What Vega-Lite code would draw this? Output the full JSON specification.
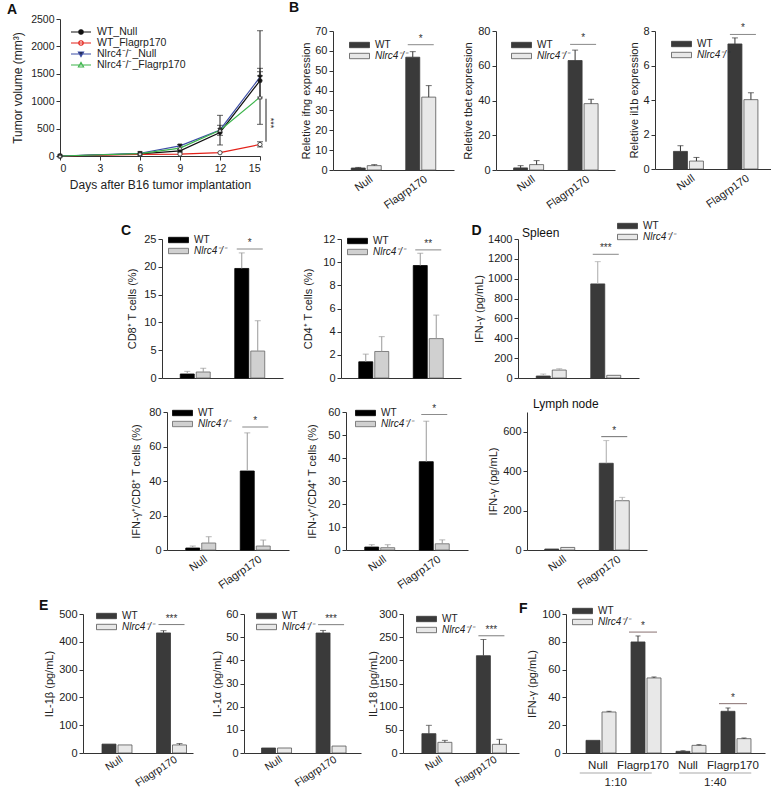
{
"$schema": "https://vega.github.io/schema/vega-lite/v6.json",
"padding": 0,
"spacing": 0,
"resolve": {"scale": {"color": "independent", "fill": "independent", "stroke": "independent", "shape": "independent"}, "legend": {"color": "independent", "fill": "independent", "stroke": "independent", "shape": "independent"}},
"config": {
 "font": "Liberation Sans",
 "view": {"stroke": null},
 "axis": {"labelFont": "Liberation Sans", "titleFont": "Liberation Sans", "labelFontSize": 11, "titleFontSize": 11, "titleFontWeight": "normal", "labelColor": "#222", "titleColor": "#222", "domainColor": "#333", "tickColor": "#333", "tickSize": 4, "labelPadding": 2, "titlePadding": 3, "grid": false, "labelOverlap": false},
 "legend": {"labelFont": "Liberation Sans", "labelFontSize": 10, "labelColor": "#222", "padding": 0, "rowPadding": 1, "labelOffset": 5, "title": null, "clipHeight": 10},
 "title": {"font": "Liberation Sans", "fontSize": 14, "fontWeight": "bold", "anchor": "start", "frame": "group", "color": "#111", "baseline": "alphabetic"}
},
"datasets": {
 "a": [
  {"day": 0, "s": "WT_Null", "m": "WT Null", "v": 0}, {"day": 6, "s": "WT_Null", "m": "WT Null", "v": 40}, {"day": 9, "s": "WT_Null", "m": "WT Null", "v": 95}, {"day": 12, "s": "WT_Null", "m": "WT Null", "v": 430}, {"day": 15, "s": "WT_Null", "m": "WT Null", "v": 1375},
  {"day": 0, "s": "WT_Flagrp170", "m": "WT Flagrp170", "v": 0}, {"day": 6, "s": "WT_Flagrp170", "m": "WT Flagrp170", "v": 30}, {"day": 9, "s": "WT_Flagrp170", "m": "WT Flagrp170", "v": 35}, {"day": 12, "s": "WT_Flagrp170", "m": "WT Flagrp170", "v": 60}, {"day": 15, "s": "WT_Flagrp170", "m": "WT Flagrp170", "v": 210},
  {"day": 0, "s": "Nlrc4⁻/⁻_Null", "m": "Nlrc4 Null", "v": 0}, {"day": 6, "s": "Nlrc4⁻/⁻_Null", "m": "Nlrc4 Null", "v": 50}, {"day": 9, "s": "Nlrc4⁻/⁻_Null", "m": "Nlrc4 Null", "v": 185}, {"day": 12, "s": "Nlrc4⁻/⁻_Null", "m": "Nlrc4 Null", "v": 475}, {"day": 15, "s": "Nlrc4⁻/⁻_Null", "m": "Nlrc4 Null", "v": 1440},
  {"day": 0, "s": "Nlrc4⁻/⁻_Flagrp170", "m": "Nlrc4 Flagrp170", "v": 0}, {"day": 6, "s": "Nlrc4⁻/⁻_Flagrp170", "m": "Nlrc4 Flagrp170", "v": 45}, {"day": 9, "s": "Nlrc4⁻/⁻_Flagrp170", "m": "Nlrc4 Flagrp170", "v": 145}, {"day": 12, "s": "Nlrc4⁻/⁻_Flagrp170", "m": "Nlrc4 Flagrp170", "v": 470}, {"day": 15, "s": "Nlrc4⁻/⁻_Flagrp170", "m": "Nlrc4 Flagrp170", "v": 1075}
 ],
 "aerr": [
  {"day": 6, "s": "WT_Null", "lo": 30, "hi": 52},
  {"day": 9, "s": "WT_Null", "lo": 70, "hi": 120},
  {"day": 9, "s": "Nlrc4⁻/⁻_Null", "lo": 165, "hi": 205},
  {"day": 12, "s": "WT_Null", "lo": 377, "hi": 560},
  {"day": 12, "s": "Nlrc4⁻/⁻_Flagrp170", "lo": 201, "hi": 742},
  {"day": 15, "s": "WT_Null", "lo": 578, "hi": 2286},
  {"day": 15, "s": "Nlrc4⁻/⁻_Null", "lo": 1460, "hi": 1600},
  {"day": 15, "s": "Nlrc4⁻/⁻_Flagrp170", "lo": 1075, "hi": 1538},
  {"day": 15, "s": "WT_Flagrp170", "lo": 165, "hi": 260}
 ],
 "asig": [{"lo": 261, "hi": 1045, "lab": "***"}],
 "b1": [{"grp": "Null", "geno": "WT", "v": 1.0, "hi": 1.3}, {"grp": "Null", "geno": "Nlrc4⁻/⁻", "v": 2.2, "hi": 2.7}, {"grp": "Flagrp170", "geno": "WT", "v": 56.8, "hi": 59.6}, {"grp": "Flagrp170", "geno": "Nlrc4⁻/⁻", "v": 36.7, "hi": 42.5}],
 "b1s": [{"grp": "Flagrp170", "y": 63.1, "lab": "*"}],
 "b2": [{"grp": "Null", "geno": "WT", "v": 1.2, "hi": 2.5}, {"grp": "Null", "geno": "Nlrc4⁻/⁻", "v": 3.1, "hi": 5.4}, {"grp": "Flagrp170", "geno": "WT", "v": 63, "hi": 69}, {"grp": "Flagrp170", "geno": "Nlrc4⁻/⁻", "v": 38.2, "hi": 40.7}],
 "b2s": [{"grp": "Flagrp170", "y": 72.3, "lab": "*"}],
 "b3": [{"grp": "Null", "geno": "WT", "v": 1.02, "hi": 1.35}, {"grp": "Null", "geno": "Nlrc4⁻/⁻", "v": 0.46, "hi": 0.67}, {"grp": "Flagrp170", "geno": "WT", "v": 7.25, "hi": 7.6}, {"grp": "Flagrp170", "geno": "Nlrc4⁻/⁻", "v": 4.02, "hi": 4.42}],
 "b3s": [{"grp": "Flagrp170", "y": 7.8, "lab": "*"}],
 "c1": [{"grp": "Null", "geno": "WT", "v": 0.72, "hi": 1.2}, {"grp": "Null", "geno": "Nlrc4⁻/⁻", "v": 1.08, "hi": 1.75}, {"grp": "Flagrp170", "geno": "WT", "v": 19.7, "hi": 22.5}, {"grp": "Flagrp170", "geno": "Nlrc4⁻/⁻", "v": 4.85, "hi": 10.3}],
 "c1s": [{"grp": "Flagrp170", "y": 23.2, "lab": "*"}],
 "c2": [{"grp": "Null", "geno": "WT", "v": 1.4, "hi": 2.06}, {"grp": "Null", "geno": "Nlrc4⁻/⁻", "v": 2.29, "hi": 3.57}, {"grp": "Flagrp170", "geno": "WT", "v": 9.71, "hi": 10.77}, {"grp": "Flagrp170", "geno": "Nlrc4⁻/⁻", "v": 3.4, "hi": 5.43}],
 "c2s": [{"grp": "Flagrp170", "y": 11.06, "lab": "**"}],
 "c3": [{"grp": "Null", "geno": "WT", "v": 1.15, "hi": 2.3}, {"grp": "Null", "geno": "Nlrc4⁻/⁻", "v": 4.04, "hi": 7.7}, {"grp": "Flagrp170", "geno": "WT", "v": 45.8, "hi": 67.9}, {"grp": "Flagrp170", "geno": "Nlrc4⁻/⁻", "v": 2.3, "hi": 5.77}],
 "c3s": [{"grp": "Flagrp170", "y": 71.3, "lab": "*"}],
 "c4": [{"grp": "Null", "geno": "WT", "v": 1.29, "hi": 2.3}, {"grp": "Null", "geno": "Nlrc4⁻/⁻", "v": 1.0, "hi": 2.3}, {"grp": "Flagrp170", "geno": "WT", "v": 38.4, "hi": 56.0}, {"grp": "Flagrp170", "geno": "Nlrc4⁻/⁻", "v": 2.7, "hi": 4.4}],
 "c4s": [{"grp": "Flagrp170", "y": 58.9, "lab": "*"}],
 "d1": [{"grp": "Null", "geno": "WT", "v": 20, "hi": 40}, {"grp": "Null", "geno": "Nlrc4⁻/⁻", "v": 80, "hi": 94}, {"grp": "Flagrp170", "geno": "WT", "v": 948, "hi": 1172}, {"grp": "Flagrp170", "geno": "Nlrc4⁻/⁻", "v": 27, "hi": 27}],
 "d1s": [{"grp": "Flagrp170", "y": 1246, "lab": "***"}],
 "d2": [{"grp": "Null", "geno": "WT", "v": 5, "hi": 5}, {"grp": "Null", "geno": "Nlrc4⁻/⁻", "v": 13, "hi": 13}, {"grp": "Flagrp170", "geno": "WT", "v": 440, "hi": 555}, {"grp": "Flagrp170", "geno": "Nlrc4⁻/⁻", "v": 250, "hi": 267}],
 "d2s": [{"grp": "Flagrp170", "y": 575, "lab": "*"}],
 "e1": [{"grp": "Null", "geno": "WT", "v": 32, "hi": 32}, {"grp": "Null", "geno": "Nlrc4⁻/⁻", "v": 29, "hi": 29}, {"grp": "Flagrp170", "geno": "WT", "v": 432, "hi": 440}, {"grp": "Flagrp170", "geno": "Nlrc4⁻/⁻", "v": 29, "hi": 34}],
 "e1s": [{"grp": "Flagrp170", "y": 462, "lab": "***"}],
 "e2": [{"grp": "Null", "geno": "WT", "v": 2.16, "hi": 2.16}, {"grp": "Null", "geno": "Nlrc4⁻/⁻", "v": 2.16, "hi": 2.16}, {"grp": "Flagrp170", "geno": "WT", "v": 51.8, "hi": 52.9}, {"grp": "Flagrp170", "geno": "Nlrc4⁻/⁻", "v": 3.0, "hi": 3.0}],
 "e2s": [{"grp": "Flagrp170", "y": 55.4, "lab": "***"}],
 "e3": [{"grp": "Null", "geno": "WT", "v": 41.7, "hi": 59.7}, {"grp": "Null", "geno": "Nlrc4⁻/⁻", "v": 23, "hi": 27.3}, {"grp": "Flagrp170", "geno": "WT", "v": 210, "hi": 245}, {"grp": "Flagrp170", "geno": "Nlrc4⁻/⁻", "v": 18.7, "hi": 29.5}],
 "e3s": [{"grp": "Flagrp170", "y": 253, "lab": "***"}],
 "f": [{"grp": "Null_1:10", "geno": "WT", "v": 9.1, "hi": 9.1}, {"grp": "Null_1:10", "geno": "Nlrc4⁻/⁻", "v": 29.5, "hi": 30}, {"grp": "Flagrp170_1:10", "geno": "WT", "v": 79.9, "hi": 84.2}, {"grp": "Flagrp170_1:10", "geno": "Nlrc4⁻/⁻", "v": 54, "hi": 54.7}, {"grp": "Null_1:40", "geno": "WT", "v": 1.2, "hi": 1.6}, {"grp": "Null_1:40", "geno": "Nlrc4⁻/⁻", "v": 5.5, "hi": 6}, {"grp": "Flagrp170_1:40", "geno": "WT", "v": 30, "hi": 32.4}, {"grp": "Flagrp170_1:40", "geno": "Nlrc4⁻/⁻", "v": 10.3, "hi": 10.8}],
 "fs": [{"grp": "Flagrp170_1:10", "y": 87, "lab": "*"}, {"grp": "Flagrp170_1:40", "y": 35.5, "lab": "*"}],
 "fr": [{"ratio": "1:10"}, {"ratio": "1:40"}]
},
"vconcat": [
 {"spacing": 0, "resolve": {"scale": {"color": "independent", "fill": "independent", "stroke": "independent", "shape": "independent"}, "legend": {"color": "independent", "fill": "independent", "stroke": "independent", "shape": "independent"}}, "hconcat": [
  {"width": 1, "height": 1, "data": {"values": [{}]}, "mark": {"type": "point", "opacity": 0}, "encoding": {}},
  {"width": 200, "height": 137, "title": {"text": "A", "dx": -53, "offset": -3},
   "layer": [
    {"data": {"name": "aerr"}, "mark": {"type": "rule", "color": "#222"},
     "encoding": {
      "x": {"field": "day", "type": "quantitative", "scale": {"domain": [0, 15], "nice": false}, "axis": {"values": [0, 3, 6, 9, 12, 15], "tickCount": 50, "format": "d", "title": "Days after B16 tumor implantation", "ticks": true, "labelFontSize": 10.5, "titleFontSize": 12, "titlePadding": 6, "labelPadding": 3}},
      "y": {"field": "lo", "type": "quantitative", "scale": {"domain": [0, 2500], "nice": false}, "axis": {"values": [0, 500, 1000, 1500, 2000, 2500], "tickCount": 50, "format": "d", "title": "Tumor volume (mm³)", "labelFontSize": 10.5, "titleFontSize": 12, "titlePadding": 0, "minExtent": 36, "maxExtent": 36}},
      "y2": {"field": "hi"}}},
    {"data": {"name": "aerr"}, "mark": {"type": "tick", "orient": "horizontal", "size": 6, "thickness": 1, "color": "#222"}, "encoding": {"x": {"field": "day", "type": "quantitative"}, "y": {"field": "hi", "type": "quantitative"}}},
    {"data": {"name": "aerr"}, "mark": {"type": "tick", "orient": "horizontal", "size": 6, "thickness": 1, "color": "#222"}, "encoding": {"x": {"field": "day", "type": "quantitative"}, "y": {"field": "lo", "type": "quantitative"}}},
    {"data": {"name": "a"}, "mark": {"type": "line", "strokeWidth": 1.2},
     "encoding": {
      "x": {"field": "day", "type": "quantitative"},
      "y": {"field": "v", "type": "quantitative"},
      "color": {"field": "s", "type": "nominal", "scale": {"domain": ["WT_Null", "WT_Flagrp170", "Nlrc4⁻/⁻_Null", "Nlrc4⁻/⁻_Flagrp170"], "range": ["#111111", "#e32119", "#3d4ea6", "#3cb44b"]},
       "legend": {"orient": "none", "legendX": 10, "legendY": 8, "symbolSize": 400, "symbolStrokeWidth": 1.1, "labelFontSize": 10.5, "labelOffset": 5, "rowPadding": 0,
        "encode": {"symbols": {"update": {
         "shape": {"signal": "datum.value === 'WT_Null' || datum.value === 'WT_Flagrp170' ? 'M-1,0H1M0.22,0A0.22,0.22 0 1,1 -0.22,0A0.22,0.22 0 1,1 0.22,0Z' : (datum.value === 'Nlrc4⁻/⁻_Null' ? 'M-1,0H1M-0.26,-0.2L0.26,-0.2L0,0.26Z' : 'M-1,0H1M-0.26,0.2L0.26,0.2L0,-0.26Z')"},
         "fill": {"signal": "datum.value === 'WT_Null' || datum.value === 'Nlrc4⁻/⁻_Null' ? '#111111' : '#ffffff'"},
         "fillOpacity": {"value": 1}}}}}}}},
    {"data": {"name": "a"}, "mark": {"type": "point", "filled": true, "size": 18, "stroke": "#222", "strokeWidth": 0.8, "opacity": 1},
     "encoding": {
      "x": {"field": "day", "type": "quantitative"},
      "y": {"field": "v", "type": "quantitative"},
      "shape": {"field": "m", "type": "nominal", "scale": {"domain": ["WT Null", "WT Flagrp170", "Nlrc4 Null", "Nlrc4 Flagrp170"], "range": ["circle", "circle", "triangle-down", "triangle-up"]}, "legend": null},
      "fill": {"field": "m", "type": "nominal", "scale": {"domain": ["WT Null", "WT Flagrp170", "Nlrc4 Null", "Nlrc4 Flagrp170"], "range": ["#111111", "#ffffff", "#111111", "#ffffff"]}, "legend": null}}},
    {"data": {"name": "asig"}, "mark": {"type": "rule", "color": "#222"}, "encoding": {"x": {"datum": 15.45}, "y": {"field": "lo", "type": "quantitative"}, "y2": {"field": "hi"}}},
    {"data": {"name": "asig"}, "mark": {"type": "text", "angle": 90, "fontSize": 9, "align": "center", "baseline": "middle", "color": "#222"}, "encoding": {"x": {"datum": 15.85}, "y": {"datum": 600}, "text": {"field": "lab"}}}
   ]},
  {"width": 24, "height": 1, "title": {"text": "B", "dx": 13, "offset": 2}, "data": {"values": [{}]}, "mark": {"type": "point", "opacity": 0}, "encoding": {}},
  {"spacing": 0, "resolve": {"scale": {"color": "independent", "fill": "independent", "stroke": "independent", "shape": "independent"}, "legend": {"color": "independent", "fill": "independent", "stroke": "independent", "shape": "independent"}}, "vconcat": [
   {"width": 1, "height": 1, "data": {"values": [{}]}, "mark": {"type": "point", "opacity": 0}, "encoding": {}},
   {"spacing": 0, "resolve": {"scale": {"color": "independent", "fill": "independent", "stroke": "independent", "shape": "independent"}, "legend": {"color": "independent", "fill": "independent", "stroke": "independent", "shape": "independent"}}, "hconcat": [
    {"width": 121, "height": 139,
     "layer": [
      {"data": {"name": "b1"}, "mark": {"type": "bar", "strokeWidth": 0.8},
       "encoding": {
        "x": {"field": "grp", "type": "nominal", "sort": ["Null", "Flagrp170"], "scale": {"paddingInner": 0.45, "paddingOuter": 0.335}, "axis": {"title": null, "ticks": false, "labelAngle": -35, "labelAlign": "right", "labelBaseline": "top", "labelPadding": 3, "labelOffset": 2}},
        "xOffset": {"field": "geno", "type": "nominal", "sort": ["WT", "Nlrc4⁻/⁻"], "scale": {"paddingInner": 0.125, "paddingOuter": 0}},
        "y": {"field": "v", "type": "quantitative", "scale": {"domain": [0, 70], "nice": false}, "axis": {"values": [0, 10, 20, 30, 40, 50, 60, 70], "tickCount": 50, "format": "d", "title": "Reletive ifng expression", "titlePadding": 0, "minExtent": 21.5, "maxExtent": 21.5}},
        "fill": {"field": "geno", "type": "nominal", "scale": {"domain": ["WT", "Nlrc4⁻/⁻"], "range": ["#3a3a3a", "#e8e8e8"]},
         "legend": {"orient": "none", "legendX": 16, "legendY": 9, "symbolType": "M-1,-0.27H1V0.27H-1Z", "symbolSize": 400, "symbolStrokeWidth": 0.8, "encode": {"labels": {"update": {"fontStyle": {"signal": "datum.value === 'WT' ? 'normal' : 'italic'"}}}}}},
        "stroke": {"field": "geno", "type": "nominal", "scale": {"domain": ["WT", "Nlrc4⁻/⁻"], "range": ["#3a3a3a", "#555555"]}}}},
      {"data": {"name": "b1"}, "mark": {"type": "rule", "color": "#333"}, "encoding": {"x": {"field": "grp", "type": "nominal", "sort": ["Null", "Flagrp170"]}, "xOffset": {"field": "geno", "type": "nominal", "sort": ["WT", "Nlrc4⁻/⁻"]}, "y": {"field": "v", "type": "quantitative"}, "y2": {"field": "hi"}}},
      {"data": {"name": "b1"}, "transform": [{"filter": "datum.hi > datum.v"}], "mark": {"type": "tick", "orient": "horizontal", "size": 6, "thickness": 1, "color": "#333"}, "encoding": {"x": {"field": "grp", "type": "nominal", "sort": ["Null", "Flagrp170"]}, "xOffset": {"field": "geno", "type": "nominal", "sort": ["WT", "Nlrc4⁻/⁻"]}, "y": {"field": "hi", "type": "quantitative"}}},
      {"data": {"name": "b1s"}, "mark": {"type": "tick", "orient": "horizontal", "size": 26, "thickness": 1, "color": "#555"}, "encoding": {"x": {"field": "grp", "type": "nominal", "sort": ["Null", "Flagrp170"]}, "y": {"field": "y", "type": "quantitative"}}},
      {"data": {"name": "b1s"}, "mark": {"type": "text", "baseline": "bottom", "dy": -1, "fontSize": 10, "color": "#333"}, "encoding": {"x": {"field": "grp", "type": "nominal", "sort": ["Null", "Flagrp170"]}, "y": {"field": "y", "type": "quantitative"}, "text": {"field": "lab"}}}
     ]},
    {"width": 7, "height": 1, "data": {"values": [{}]}, "mark": {"type": "point", "opacity": 0}, "encoding": {}},
    {"width": 119, "height": 139,
     "layer": [
      {"data": {"name": "b2"}, "mark": {"type": "bar", "strokeWidth": 0.8},
       "encoding": {
        "x": {"field": "grp", "type": "nominal", "sort": ["Null", "Flagrp170"], "scale": {"paddingInner": 0.45, "paddingOuter": 0.317, "align": 0.51}, "axis": {"title": null, "ticks": false, "labelAngle": -35, "labelAlign": "right", "labelBaseline": "top", "labelPadding": 3, "labelOffset": 2}},
        "xOffset": {"field": "geno", "type": "nominal", "sort": ["WT", "Nlrc4⁻/⁻"], "scale": {"paddingInner": 0.125, "paddingOuter": 0}},
        "y": {"field": "v", "type": "quantitative", "scale": {"domain": [0, 80], "nice": false}, "axis": {"values": [0, 20, 40, 60, 80], "tickCount": 50, "format": "d", "title": "Reletive tbet expression", "titlePadding": 0, "minExtent": 23, "maxExtent": 23}},
        "fill": {"field": "geno", "type": "nominal", "scale": {"domain": ["WT", "Nlrc4⁻/⁻"], "range": ["#3a3a3a", "#e8e8e8"]},
         "legend": {"orient": "none", "legendX": 15, "legendY": 9, "symbolType": "M-1,-0.27H1V0.27H-1Z", "symbolSize": 400, "symbolStrokeWidth": 0.8, "encode": {"labels": {"update": {"fontStyle": {"signal": "datum.value === 'WT' ? 'normal' : 'italic'"}}}}}},
        "stroke": {"field": "geno", "type": "nominal", "scale": {"domain": ["WT", "Nlrc4⁻/⁻"], "range": ["#3a3a3a", "#555555"]}}}},
      {"data": {"name": "b2"}, "mark": {"type": "rule", "color": "#333"}, "encoding": {"x": {"field": "grp", "type": "nominal", "sort": ["Null", "Flagrp170"]}, "xOffset": {"field": "geno", "type": "nominal", "sort": ["WT", "Nlrc4⁻/⁻"]}, "y": {"field": "v", "type": "quantitative"}, "y2": {"field": "hi"}}},
      {"data": {"name": "b2"}, "transform": [{"filter": "datum.hi > datum.v"}], "mark": {"type": "tick", "orient": "horizontal", "size": 6, "thickness": 1, "color": "#333"}, "encoding": {"x": {"field": "grp", "type": "nominal", "sort": ["Null", "Flagrp170"]}, "xOffset": {"field": "geno", "type": "nominal", "sort": ["WT", "Nlrc4⁻/⁻"]}, "y": {"field": "hi", "type": "quantitative"}}},
      {"data": {"name": "b2s"}, "mark": {"type": "tick", "orient": "horizontal", "size": 26, "thickness": 1, "color": "#555"}, "encoding": {"x": {"field": "grp", "type": "nominal", "sort": ["Null", "Flagrp170"]}, "y": {"field": "y", "type": "quantitative"}}},
      {"data": {"name": "b2s"}, "mark": {"type": "text", "baseline": "bottom", "dy": -1, "fontSize": 10, "color": "#333"}, "encoding": {"x": {"field": "grp", "type": "nominal", "sort": ["Null", "Flagrp170"]}, "y": {"field": "y", "type": "quantitative"}, "text": {"field": "lab"}}}
     ]},
    {"width": 12, "height": 1, "data": {"values": [{}]}, "mark": {"type": "point", "opacity": 0}, "encoding": {}},
    {"width": 118, "height": 138,
     "layer": [
      {"data": {"name": "b3"}, "mark": {"type": "bar", "strokeWidth": 0.8},
       "encoding": {
        "x": {"field": "grp", "type": "nominal", "sort": ["Null", "Flagrp170"], "scale": {"paddingInner": 0.45, "paddingOuter": 0.308, "align": 0.55}, "axis": {"title": null, "ticks": false, "labelAngle": -35, "labelAlign": "right", "labelBaseline": "top", "labelPadding": 3, "labelOffset": 2}},
        "xOffset": {"field": "geno", "type": "nominal", "sort": ["WT", "Nlrc4⁻/⁻"], "scale": {"paddingInner": 0.125, "paddingOuter": 0}},
        "y": {"field": "v", "type": "quantitative", "scale": {"domain": [0, 8], "nice": false}, "axis": {"values": [0, 2, 4, 6, 8], "tickCount": 50, "format": "d", "title": "Reletive il1b expression", "titlePadding": 0, "minExtent": 16, "maxExtent": 16}},
        "fill": {"field": "geno", "type": "nominal", "scale": {"domain": ["WT", "Nlrc4⁻/⁻"], "range": ["#3a3a3a", "#e8e8e8"]},
         "legend": {"orient": "none", "legendX": 16, "legendY": 8, "symbolType": "M-1,-0.27H1V0.27H-1Z", "symbolSize": 400, "symbolStrokeWidth": 0.8, "encode": {"labels": {"update": {"fontStyle": {"signal": "datum.value === 'WT' ? 'normal' : 'italic'"}}}}}},
        "stroke": {"field": "geno", "type": "nominal", "scale": {"domain": ["WT", "Nlrc4⁻/⁻"], "range": ["#3a3a3a", "#555555"]}}}},
      {"data": {"name": "b3"}, "mark": {"type": "rule", "color": "#333"}, "encoding": {"x": {"field": "grp", "type": "nominal", "sort": ["Null", "Flagrp170"]}, "xOffset": {"field": "geno", "type": "nominal", "sort": ["WT", "Nlrc4⁻/⁻"]}, "y": {"field": "v", "type": "quantitative"}, "y2": {"field": "hi"}}},
      {"data": {"name": "b3"}, "transform": [{"filter": "datum.hi > datum.v"}], "mark": {"type": "tick", "orient": "horizontal", "size": 6, "thickness": 1, "color": "#333"}, "encoding": {"x": {"field": "grp", "type": "nominal", "sort": ["Null", "Flagrp170"]}, "xOffset": {"field": "geno", "type": "nominal", "sort": ["WT", "Nlrc4⁻/⁻"]}, "y": {"field": "hi", "type": "quantitative"}}},
      {"data": {"name": "b3s"}, "mark": {"type": "tick", "orient": "horizontal", "size": 26, "thickness": 1, "color": "#555"}, "encoding": {"x": {"field": "grp", "type": "nominal", "sort": ["Null", "Flagrp170"]}, "y": {"field": "y", "type": "quantitative"}}},
      {"data": {"name": "b3s"}, "mark": {"type": "text", "baseline": "bottom", "dy": -1, "fontSize": 10, "color": "#333"}, "encoding": {"x": {"field": "grp", "type": "nominal", "sort": ["Null", "Flagrp170"]}, "y": {"field": "y", "type": "quantitative"}, "text": {"field": "lab"}}}
     ]}
   ]}
  ]}
 ]},
 {"width": 1, "height": 10, "data": {"values": [{}]}, "mark": {"type": "point", "opacity": 0}, "encoding": {}},
 {"spacing": 0, "resolve": {"scale": {"color": "independent", "fill": "independent", "stroke": "independent", "shape": "independent"}, "legend": {"color": "independent", "fill": "independent", "stroke": "independent", "shape": "independent"}}, "hconcat": [
  {"width": 118, "height": 1, "data": {"values": [{}]}, "mark": {"type": "point", "opacity": 0}, "encoding": {}},
  {"width": 121, "height": 139, "title": {"text": "C", "dx": -41, "offset": -5},
   "layer": [
    {"data": {"name": "c1"}, "mark": {"type": "bar", "strokeWidth": 0.8},
     "encoding": {
      "x": {"field": "grp", "type": "nominal", "sort": ["Null", "Flagrp170"], "scale": {"paddingInner": 0.45, "paddingOuter": 0.335}, "axis": {"title": null, "ticks": false, "labels": false}},
      "xOffset": {"field": "geno", "type": "nominal", "sort": ["WT", "Nlrc4⁻/⁻"], "scale": {"paddingInner": 0.125, "paddingOuter": 0}},
      "y": {"field": "v", "type": "quantitative", "scale": {"domain": [0, 25], "nice": false}, "axis": {"values": [0, 5, 10, 15, 20, 25], "tickCount": 50, "format": "d", "title": "CD8⁺ T cells (%)", "titlePadding": 0, "minExtent": 24.5, "maxExtent": 24.5}},
      "fill": {"field": "geno", "type": "nominal", "scale": {"domain": ["WT", "Nlrc4⁻/⁻"], "range": ["#000000", "#d0d0d0"]},
       "legend": {"orient": "none", "legendX": 6, "legendY": -4, "symbolType": "M-1,-0.27H1V0.27H-1Z", "symbolSize": 400, "symbolStrokeWidth": 0.8, "encode": {"labels": {"update": {"fontStyle": {"signal": "datum.value === 'WT' ? 'normal' : 'italic'"}}}}}},
      "stroke": {"field": "geno", "type": "nominal", "scale": {"domain": ["WT", "Nlrc4⁻/⁻"], "range": ["#000000", "#666666"]}}}},
    {"data": {"name": "c1"}, "mark": {"type": "rule", "color": "#999"}, "encoding": {"x": {"field": "grp", "type": "nominal", "sort": ["Null", "Flagrp170"]}, "xOffset": {"field": "geno", "type": "nominal", "sort": ["WT", "Nlrc4⁻/⁻"]}, "y": {"field": "v", "type": "quantitative"}, "y2": {"field": "hi"}}},
    {"data": {"name": "c1"}, "transform": [{"filter": "datum.hi > datum.v"}], "mark": {"type": "tick", "orient": "horizontal", "size": 6, "thickness": 1, "color": "#999"}, "encoding": {"x": {"field": "grp", "type": "nominal", "sort": ["Null", "Flagrp170"]}, "xOffset": {"field": "geno", "type": "nominal", "sort": ["WT", "Nlrc4⁻/⁻"]}, "y": {"field": "hi", "type": "quantitative"}}},
    {"data": {"name": "c1s"}, "mark": {"type": "tick", "orient": "horizontal", "size": 26, "thickness": 1, "color": "#555"}, "encoding": {"x": {"field": "grp", "type": "nominal", "sort": ["Null", "Flagrp170"]}, "y": {"field": "y", "type": "quantitative"}}},
    {"data": {"name": "c1s"}, "mark": {"type": "text", "baseline": "bottom", "dy": -1, "fontSize": 10, "color": "#333"}, "encoding": {"x": {"field": "grp", "type": "nominal", "sort": ["Null", "Flagrp170"]}, "y": {"field": "y", "type": "quantitative"}, "text": {"field": "lab"}}}
   ]},
  {"width": 19, "height": 1, "data": {"values": [{}]}, "mark": {"type": "point", "opacity": 0}, "encoding": {}},
  {"width": 120, "height": 139,
   "layer": [
    {"data": {"name": "c2"}, "mark": {"type": "bar", "strokeWidth": 0.8},
     "encoding": {
      "x": {"field": "grp", "type": "nominal", "sort": ["Null", "Flagrp170"], "scale": {"paddingInner": 0.45, "paddingOuter": 0.326}, "axis": {"title": null, "ticks": false, "labels": false}},
      "xOffset": {"field": "geno", "type": "nominal", "sort": ["WT", "Nlrc4⁻/⁻"], "scale": {"paddingInner": 0.125, "paddingOuter": 0}},
      "y": {"field": "v", "type": "quantitative", "scale": {"domain": [0, 12], "nice": false}, "axis": {"values": [0, 2, 4, 6, 8, 10, 12], "tickCount": 50, "format": "d", "title": "CD4⁺ T cells (%)", "titlePadding": 0, "minExtent": 27.5, "maxExtent": 27.5}},
      "fill": {"field": "geno", "type": "nominal", "scale": {"domain": ["WT", "Nlrc4⁻/⁻"], "range": ["#000000", "#d0d0d0"]},
       "legend": {"orient": "none", "legendX": 6, "legendY": -3, "symbolType": "M-1,-0.27H1V0.27H-1Z", "symbolSize": 400, "symbolStrokeWidth": 0.8, "encode": {"labels": {"update": {"fontStyle": {"signal": "datum.value === 'WT' ? 'normal' : 'italic'"}}}}}},
      "stroke": {"field": "geno", "type": "nominal", "scale": {"domain": ["WT", "Nlrc4⁻/⁻"], "range": ["#000000", "#666666"]}}}},
    {"data": {"name": "c2"}, "mark": {"type": "rule", "color": "#999"}, "encoding": {"x": {"field": "grp", "type": "nominal", "sort": ["Null", "Flagrp170"]}, "xOffset": {"field": "geno", "type": "nominal", "sort": ["WT", "Nlrc4⁻/⁻"]}, "y": {"field": "v", "type": "quantitative"}, "y2": {"field": "hi"}}},
    {"data": {"name": "c2"}, "transform": [{"filter": "datum.hi > datum.v"}], "mark": {"type": "tick", "orient": "horizontal", "size": 6, "thickness": 1, "color": "#999"}, "encoding": {"x": {"field": "grp", "type": "nominal", "sort": ["Null", "Flagrp170"]}, "xOffset": {"field": "geno", "type": "nominal", "sort": ["WT", "Nlrc4⁻/⁻"]}, "y": {"field": "hi", "type": "quantitative"}}},
    {"data": {"name": "c2s"}, "mark": {"type": "tick", "orient": "horizontal", "size": 26, "thickness": 1, "color": "#555"}, "encoding": {"x": {"field": "grp", "type": "nominal", "sort": ["Null", "Flagrp170"]}, "y": {"field": "y", "type": "quantitative"}}},
    {"data": {"name": "c2s"}, "mark": {"type": "text", "baseline": "bottom", "dy": -1, "fontSize": 10, "color": "#333"}, "encoding": {"x": {"field": "grp", "type": "nominal", "sort": ["Null", "Flagrp170"]}, "y": {"field": "y", "type": "quantitative"}, "text": {"field": "lab"}}}
   ]},
  {"width": 10, "height": 1, "data": {"values": [{}]}, "mark": {"type": "point", "opacity": 0}, "encoding": {}},
  {"title": {"text": "D", "frame": "bounds", "dx": -2, "offset": -17}, "resolve": {"scale": {"color": "independent", "fill": "independent", "stroke": "independent", "shape": "independent"}, "legend": {"color": "independent", "fill": "independent", "stroke": "independent", "shape": "independent"}}, "vconcat": [
   {"width": 121, "height": 139, "title": {"text": "Spleen", "fontSize": 12, "fontWeight": "normal", "dx": 4, "offset": -19},
    "layer": [
     {"data": {"name": "d1"}, "mark": {"type": "bar", "strokeWidth": 0.8},
      "encoding": {
       "x": {"field": "grp", "type": "nominal", "sort": ["Null", "Flagrp170"], "scale": {"paddingInner": 0.45, "paddingOuter": 0.335}, "axis": {"title": null, "ticks": false, "labels": false}},
       "xOffset": {"field": "geno", "type": "nominal", "sort": ["WT", "Nlrc4⁻/⁻"], "scale": {"paddingInner": 0.125, "paddingOuter": 0}},
       "y": {"field": "v", "type": "quantitative", "scale": {"domain": [0, 1400], "nice": false}, "axis": {"values": [0, 200, 400, 600, 800, 1000, 1200, 1400], "tickCount": 50, "format": "d", "title": "IFN-γ (pg/mL)", "titlePadding": 0, "minExtent": 33.5, "maxExtent": 33.5}},
       "fill": {"field": "geno", "type": "nominal", "scale": {"domain": ["WT", "Nlrc4⁻/⁻"], "range": ["#3a3a3a", "#e8e8e8"]},
        "legend": {"orient": "none", "legendX": 99, "legendY": -18, "symbolType": "M-1,-0.27H1V0.27H-1Z", "symbolSize": 400, "symbolStrokeWidth": 0.8, "encode": {"labels": {"update": {"fontStyle": {"signal": "datum.value === 'WT' ? 'normal' : 'italic'"}}}}}},
       "stroke": {"field": "geno", "type": "nominal", "scale": {"domain": ["WT", "Nlrc4⁻/⁻"], "range": ["#3a3a3a", "#555555"]}}}},
     {"data": {"name": "d1"}, "mark": {"type": "rule", "color": "#aaa"}, "encoding": {"x": {"field": "grp", "type": "nominal", "sort": ["Null", "Flagrp170"]}, "xOffset": {"field": "geno", "type": "nominal", "sort": ["WT", "Nlrc4⁻/⁻"]}, "y": {"field": "v", "type": "quantitative"}, "y2": {"field": "hi"}}},
     {"data": {"name": "d1"}, "transform": [{"filter": "datum.hi > datum.v"}], "mark": {"type": "tick", "orient": "horizontal", "size": 6, "thickness": 1, "color": "#aaa"}, "encoding": {"x": {"field": "grp", "type": "nominal", "sort": ["Null", "Flagrp170"]}, "xOffset": {"field": "geno", "type": "nominal", "sort": ["WT", "Nlrc4⁻/⁻"]}, "y": {"field": "hi", "type": "quantitative"}}},
     {"data": {"name": "d1s"}, "mark": {"type": "tick", "orient": "horizontal", "size": 26, "thickness": 1, "color": "#555"}, "encoding": {"x": {"field": "grp", "type": "nominal", "sort": ["Null", "Flagrp170"]}, "y": {"field": "y", "type": "quantitative"}}},
     {"data": {"name": "d1s"}, "mark": {"type": "text", "baseline": "bottom", "dy": -1, "fontSize": 10, "color": "#333"}, "encoding": {"x": {"field": "grp", "type": "nominal", "sort": ["Null", "Flagrp170"]}, "y": {"field": "y", "type": "quantitative"}, "text": {"field": "lab"}}}
    ]}
  ]}
 ]},
 {"width": 1, "height": 15, "data": {"values": [{}]}, "mark": {"type": "point", "opacity": 0}, "encoding": {}},
 {"spacing": 0, "resolve": {"scale": {"color": "independent", "fill": "independent", "stroke": "independent", "shape": "independent"}, "legend": {"color": "independent", "fill": "independent", "stroke": "independent", "shape": "independent"}}, "hconcat": [
  {"width": 127, "height": 1, "data": {"values": [{}]}, "mark": {"type": "point", "opacity": 0}, "encoding": {}},
  {"width": 122, "height": 138,
   "layer": [
    {"data": {"name": "c3"}, "mark": {"type": "bar", "strokeWidth": 0.8},
     "encoding": {
      "x": {"field": "grp", "type": "nominal", "sort": ["Null", "Flagrp170"], "scale": {"paddingInner": 0.45, "paddingOuter": 0.344}, "axis": {"title": null, "ticks": false, "labelAngle": -35, "labelAlign": "right", "labelBaseline": "top", "labelPadding": 3, "labelOffset": 2}},
      "xOffset": {"field": "geno", "type": "nominal", "sort": ["WT", "Nlrc4⁻/⁻"], "scale": {"paddingInner": 0.125, "paddingOuter": 0}},
      "y": {"field": "v", "type": "quantitative", "scale": {"domain": [0, 80], "nice": false}, "axis": {"values": [0, 20, 40, 60, 80], "tickCount": 50, "format": "d", "title": "IFN-γ⁺/CD8⁺ T cells (%)", "titlePadding": 0, "minExtent": 25.5, "maxExtent": 25.5}},
      "fill": {"field": "geno", "type": "nominal", "scale": {"domain": ["WT", "Nlrc4⁻/⁻"], "range": ["#000000", "#d0d0d0"]},
       "legend": {"orient": "none", "legendX": 5, "legendY": -4, "symbolType": "M-1,-0.27H1V0.27H-1Z", "symbolSize": 400, "symbolStrokeWidth": 0.8, "encode": {"labels": {"update": {"fontStyle": {"signal": "datum.value === 'WT' ? 'normal' : 'italic'"}}}}}},
      "stroke": {"field": "geno", "type": "nominal", "scale": {"domain": ["WT", "Nlrc4⁻/⁻"], "range": ["#000000", "#666666"]}}}},
    {"data": {"name": "c3"}, "mark": {"type": "rule", "color": "#999"}, "encoding": {"x": {"field": "grp", "type": "nominal", "sort": ["Null", "Flagrp170"]}, "xOffset": {"field": "geno", "type": "nominal", "sort": ["WT", "Nlrc4⁻/⁻"]}, "y": {"field": "v", "type": "quantitative"}, "y2": {"field": "hi"}}},
    {"data": {"name": "c3"}, "transform": [{"filter": "datum.hi > datum.v"}], "mark": {"type": "tick", "orient": "horizontal", "size": 6, "thickness": 1, "color": "#999"}, "encoding": {"x": {"field": "grp", "type": "nominal", "sort": ["Null", "Flagrp170"]}, "xOffset": {"field": "geno", "type": "nominal", "sort": ["WT", "Nlrc4⁻/⁻"]}, "y": {"field": "hi", "type": "quantitative"}}},
    {"data": {"name": "c3s"}, "mark": {"type": "tick", "orient": "horizontal", "size": 26, "thickness": 1, "color": "#555"}, "encoding": {"x": {"field": "grp", "type": "nominal", "sort": ["Null", "Flagrp170"]}, "y": {"field": "y", "type": "quantitative"}}},
    {"data": {"name": "c3s"}, "mark": {"type": "text", "baseline": "bottom", "dy": -1, "fontSize": 10, "color": "#333"}, "encoding": {"x": {"field": "grp", "type": "nominal", "sort": ["Null", "Flagrp170"]}, "y": {"field": "y", "type": "quantitative"}, "text": {"field": "lab"}}}
   ]},
  {"width": 17, "height": 1, "data": {"values": [{}]}, "mark": {"type": "point", "opacity": 0}, "encoding": {}},
  {"width": 122, "height": 138,
   "layer": [
    {"data": {"name": "c4"}, "mark": {"type": "bar", "strokeWidth": 0.8},
     "encoding": {
      "x": {"field": "grp", "type": "nominal", "sort": ["Null", "Flagrp170"], "scale": {"paddingInner": 0.45, "paddingOuter": 0.344}, "axis": {"title": null, "ticks": false, "labelAngle": -35, "labelAlign": "right", "labelBaseline": "top", "labelPadding": 3, "labelOffset": 2}},
      "xOffset": {"field": "geno", "type": "nominal", "sort": ["WT", "Nlrc4⁻/⁻"], "scale": {"paddingInner": 0.125, "paddingOuter": 0}},
      "y": {"field": "v", "type": "quantitative", "scale": {"domain": [0, 60], "nice": false}, "axis": {"values": [0, 10, 20, 30, 40, 50, 60], "tickCount": 50, "format": "d", "title": "IFN-γ⁺/CD4⁺ T cells (%)", "titlePadding": 0, "minExtent": 29, "maxExtent": 29}},
      "fill": {"field": "geno", "type": "nominal", "scale": {"domain": ["WT", "Nlrc4⁻/⁻"], "range": ["#000000", "#d0d0d0"]},
       "legend": {"orient": "none", "legendX": 9, "legendY": -4, "symbolType": "M-1,-0.27H1V0.27H-1Z", "symbolSize": 400, "symbolStrokeWidth": 0.8, "encode": {"labels": {"update": {"fontStyle": {"signal": "datum.value === 'WT' ? 'normal' : 'italic'"}}}}}},
      "stroke": {"field": "geno", "type": "nominal", "scale": {"domain": ["WT", "Nlrc4⁻/⁻"], "range": ["#000000", "#666666"]}}}},
    {"data": {"name": "c4"}, "mark": {"type": "rule", "color": "#999"}, "encoding": {"x": {"field": "grp", "type": "nominal", "sort": ["Null", "Flagrp170"]}, "xOffset": {"field": "geno", "type": "nominal", "sort": ["WT", "Nlrc4⁻/⁻"]}, "y": {"field": "v", "type": "quantitative"}, "y2": {"field": "hi"}}},
    {"data": {"name": "c4"}, "transform": [{"filter": "datum.hi > datum.v"}], "mark": {"type": "tick", "orient": "horizontal", "size": 6, "thickness": 1, "color": "#999"}, "encoding": {"x": {"field": "grp", "type": "nominal", "sort": ["Null", "Flagrp170"]}, "xOffset": {"field": "geno", "type": "nominal", "sort": ["WT", "Nlrc4⁻/⁻"]}, "y": {"field": "hi", "type": "quantitative"}}},
    {"data": {"name": "c4s"}, "mark": {"type": "tick", "orient": "horizontal", "size": 26, "thickness": 1, "color": "#555"}, "encoding": {"x": {"field": "grp", "type": "nominal", "sort": ["Null", "Flagrp170"]}, "y": {"field": "y", "type": "quantitative"}}},
    {"data": {"name": "c4s"}, "mark": {"type": "text", "baseline": "bottom", "dy": -1, "fontSize": 10, "color": "#333"}, "encoding": {"x": {"field": "grp", "type": "nominal", "sort": ["Null", "Flagrp170"]}, "y": {"field": "y", "type": "quantitative"}, "text": {"field": "lab"}}}
   ]},
  {"width": 19, "height": 1, "data": {"values": [{}]}, "mark": {"type": "point", "opacity": 0}, "encoding": {}},
  {"width": 120, "height": 138, "title": {"text": "Lymph node", "fontSize": 12, "fontWeight": "normal", "dx": 6, "offset": 1},
   "layer": [
    {"data": {"name": "d2"}, "mark": {"type": "bar", "strokeWidth": 0.8},
     "encoding": {
      "x": {"field": "grp", "type": "nominal", "sort": ["Null", "Flagrp170"], "scale": {"paddingInner": 0.45, "paddingOuter": 0.326}, "axis": {"title": null, "ticks": false, "labelAngle": -35, "labelAlign": "right", "labelBaseline": "top", "labelPadding": 3, "labelOffset": 2}},
      "xOffset": {"field": "geno", "type": "nominal", "sort": ["WT", "Nlrc4⁻/⁻"], "scale": {"paddingInner": 0.125, "paddingOuter": 0}},
      "y": {"field": "v", "type": "quantitative", "scale": {"domain": [0, 700], "nice": false}, "axis": {"values": [0, 200, 400, 600], "tickCount": 50, "format": "d", "title": "IFN-γ (pg/mL)", "titlePadding": 0, "minExtent": 28.5, "maxExtent": 28.5}},
      "fill": {"field": "geno", "type": "nominal", "scale": {"domain": ["WT", "Nlrc4⁻/⁻"], "range": ["#3a3a3a", "#e8e8e8"]}, "legend": null},
      "stroke": {"field": "geno", "type": "nominal", "scale": {"domain": ["WT", "Nlrc4⁻/⁻"], "range": ["#3a3a3a", "#555555"]}, "legend": null}}},
    {"data": {"name": "d2"}, "mark": {"type": "rule", "color": "#aaa"}, "encoding": {"x": {"field": "grp", "type": "nominal", "sort": ["Null", "Flagrp170"]}, "xOffset": {"field": "geno", "type": "nominal", "sort": ["WT", "Nlrc4⁻/⁻"]}, "y": {"field": "v", "type": "quantitative"}, "y2": {"field": "hi"}}},
    {"data": {"name": "d2"}, "transform": [{"filter": "datum.hi > datum.v"}], "mark": {"type": "tick", "orient": "horizontal", "size": 6, "thickness": 1, "color": "#aaa"}, "encoding": {"x": {"field": "grp", "type": "nominal", "sort": ["Null", "Flagrp170"]}, "xOffset": {"field": "geno", "type": "nominal", "sort": ["WT", "Nlrc4⁻/⁻"]}, "y": {"field": "hi", "type": "quantitative"}}},
    {"data": {"name": "d2s"}, "mark": {"type": "tick", "orient": "horizontal", "size": 26, "thickness": 1, "color": "#333"}, "encoding": {"x": {"field": "grp", "type": "nominal", "sort": ["Null", "Flagrp170"]}, "y": {"field": "y", "type": "quantitative"}}},
    {"data": {"name": "d2s"}, "mark": {"type": "text", "baseline": "bottom", "dy": -1, "fontSize": 10, "color": "#333"}, "encoding": {"x": {"field": "grp", "type": "nominal", "sort": ["Null", "Flagrp170"]}, "y": {"field": "y", "type": "quantitative"}, "text": {"field": "lab"}}}
   ]}
 ]},
 {"width": 1, "height": 8, "data": {"values": [{}]}, "mark": {"type": "point", "opacity": 0}, "encoding": {}},
 {"spacing": 0, "resolve": {"scale": {"color": "independent", "fill": "independent", "stroke": "independent", "shape": "independent"}, "legend": {"color": "independent", "fill": "independent", "stroke": "independent", "shape": "independent"}}, "hconcat": [
  {"width": 36, "height": 1, "data": {"values": [{}]}, "mark": {"type": "point", "opacity": 0}, "encoding": {}},
  {"width": 110, "height": 139, "title": {"text": "E", "dx": -44, "offset": -5},
   "layer": [
    {"data": {"name": "e1"}, "mark": {"type": "bar", "strokeWidth": 0.8},
     "encoding": {
      "x": {"field": "grp", "type": "nominal", "sort": ["Null", "Flagrp170"], "scale": {"paddingInner": 0.45, "paddingOuter": 0.234, "align": 0.745}, "axis": {"title": null, "ticks": false, "labelAngle": -33, "labelAlign": "right", "labelBaseline": "top", "labelPadding": 1, "labelOffset": 2, "labelFontSize": 10.5}},
      "xOffset": {"field": "geno", "type": "nominal", "sort": ["WT", "Nlrc4⁻/⁻"], "scale": {"paddingInner": 0.125, "paddingOuter": 0}},
      "y": {"field": "v", "type": "quantitative", "scale": {"domain": [0, 500], "nice": false}, "axis": {"values": [0, 100, 200, 300, 400, 500], "tickCount": 50, "format": "d", "title": "IL-1β (pg/mL)", "titlePadding": 0, "minExtent": 28.5, "maxExtent": 28.5}},
      "fill": {"field": "geno", "type": "nominal", "scale": {"domain": ["WT", "Nlrc4⁻/⁻"], "range": ["#3a3a3a", "#e8e8e8"]},
       "legend": {"orient": "none", "legendX": 13, "legendY": -3, "symbolType": "M-1,-0.27H1V0.27H-1Z", "symbolSize": 400, "symbolStrokeWidth": 0.8, "encode": {"labels": {"update": {"fontStyle": {"signal": "datum.value === 'WT' ? 'normal' : 'italic'"}}}}}},
      "stroke": {"field": "geno", "type": "nominal", "scale": {"domain": ["WT", "Nlrc4⁻/⁻"], "range": ["#3a3a3a", "#555555"]}}}},
    {"data": {"name": "e1"}, "mark": {"type": "rule", "color": "#444"}, "encoding": {"x": {"field": "grp", "type": "nominal", "sort": ["Null", "Flagrp170"]}, "xOffset": {"field": "geno", "type": "nominal", "sort": ["WT", "Nlrc4⁻/⁻"]}, "y": {"field": "v", "type": "quantitative"}, "y2": {"field": "hi"}}},
    {"data": {"name": "e1"}, "transform": [{"filter": "datum.hi > datum.v"}], "mark": {"type": "tick", "orient": "horizontal", "size": 6, "thickness": 1, "color": "#444"}, "encoding": {"x": {"field": "grp", "type": "nominal", "sort": ["Null", "Flagrp170"]}, "xOffset": {"field": "geno", "type": "nominal", "sort": ["WT", "Nlrc4⁻/⁻"]}, "y": {"field": "hi", "type": "quantitative"}}},
    {"data": {"name": "e1s"}, "mark": {"type": "tick", "orient": "horizontal", "size": 26, "thickness": 1, "color": "#444"}, "encoding": {"x": {"field": "grp", "type": "nominal", "sort": ["Null", "Flagrp170"]}, "y": {"field": "y", "type": "quantitative"}}},
    {"data": {"name": "e1s"}, "mark": {"type": "text", "baseline": "bottom", "dy": -1, "fontSize": 10, "color": "#333"}, "encoding": {"x": {"field": "grp", "type": "nominal", "sort": ["Null", "Flagrp170"]}, "y": {"field": "y", "type": "quantitative"}, "text": {"field": "lab"}}}
   ]},
  {"width": 18, "height": 1, "data": {"values": [{}]}, "mark": {"type": "point", "opacity": 0}, "encoding": {}},
  {"width": 117, "height": 139,
   "layer": [
    {"data": {"name": "e2"}, "mark": {"type": "bar", "strokeWidth": 0.8},
     "encoding": {
      "x": {"field": "grp", "type": "nominal", "sort": ["Null", "Flagrp170"], "scale": {"paddingInner": 0.45, "paddingOuter": 0.298, "align": 0.54}, "axis": {"title": null, "ticks": false, "labelAngle": -33, "labelAlign": "right", "labelBaseline": "top", "labelPadding": 1, "labelOffset": 2, "labelFontSize": 10.5}},
      "xOffset": {"field": "geno", "type": "nominal", "sort": ["WT", "Nlrc4⁻/⁻"], "scale": {"paddingInner": 0.125, "paddingOuter": 0}},
      "y": {"field": "v", "type": "quantitative", "scale": {"domain": [0, 60], "nice": false}, "axis": {"values": [0, 10, 20, 30, 40, 50, 60], "tickCount": 50, "format": "d", "title": "IL-1α (pg/mL)", "titlePadding": 0, "minExtent": 21.5, "maxExtent": 21.5}},
      "fill": {"field": "geno", "type": "nominal", "scale": {"domain": ["WT", "Nlrc4⁻/⁻"], "range": ["#3a3a3a", "#e8e8e8"]},
       "legend": {"orient": "none", "legendX": 12, "legendY": -3, "symbolType": "M-1,-0.27H1V0.27H-1Z", "symbolSize": 400, "symbolStrokeWidth": 0.8, "encode": {"labels": {"update": {"fontStyle": {"signal": "datum.value === 'WT' ? 'normal' : 'italic'"}}}}}},
      "stroke": {"field": "geno", "type": "nominal", "scale": {"domain": ["WT", "Nlrc4⁻/⁻"], "range": ["#3a3a3a", "#555555"]}}}},
    {"data": {"name": "e2"}, "mark": {"type": "rule", "color": "#444"}, "encoding": {"x": {"field": "grp", "type": "nominal", "sort": ["Null", "Flagrp170"]}, "xOffset": {"field": "geno", "type": "nominal", "sort": ["WT", "Nlrc4⁻/⁻"]}, "y": {"field": "v", "type": "quantitative"}, "y2": {"field": "hi"}}},
    {"data": {"name": "e2"}, "transform": [{"filter": "datum.hi > datum.v"}], "mark": {"type": "tick", "orient": "horizontal", "size": 6, "thickness": 1, "color": "#444"}, "encoding": {"x": {"field": "grp", "type": "nominal", "sort": ["Null", "Flagrp170"]}, "xOffset": {"field": "geno", "type": "nominal", "sort": ["WT", "Nlrc4⁻/⁻"]}, "y": {"field": "hi", "type": "quantitative"}}},
    {"data": {"name": "e2s"}, "mark": {"type": "tick", "orient": "horizontal", "size": 26, "thickness": 1, "color": "#444"}, "encoding": {"x": {"field": "grp", "type": "nominal", "sort": ["Null", "Flagrp170"]}, "y": {"field": "y", "type": "quantitative"}}},
    {"data": {"name": "e2s"}, "mark": {"type": "text", "baseline": "bottom", "dy": -1, "fontSize": 10, "color": "#333"}, "encoding": {"x": {"field": "grp", "type": "nominal", "sort": ["Null", "Flagrp170"]}, "y": {"field": "y", "type": "quantitative"}, "text": {"field": "lab"}}}
   ]},
  {"width": 4, "height": 1, "data": {"values": [{}]}, "mark": {"type": "point", "opacity": 0}, "encoding": {}},
  {"width": 116, "height": 139,
   "layer": [
    {"data": {"name": "e3"}, "mark": {"type": "bar", "strokeWidth": 0.8},
     "encoding": {
      "x": {"field": "grp", "type": "nominal", "sort": ["Null", "Flagrp170"], "scale": {"paddingInner": 0.45, "paddingOuter": 0.289, "align": 0.6}, "axis": {"title": null, "ticks": false, "labelAngle": -33, "labelAlign": "right", "labelBaseline": "top", "labelPadding": 1, "labelOffset": 2, "labelFontSize": 10.5}},
      "xOffset": {"field": "geno", "type": "nominal", "sort": ["WT", "Nlrc4⁻/⁻"], "scale": {"paddingInner": 0.125, "paddingOuter": 0}},
      "y": {"field": "v", "type": "quantitative", "scale": {"domain": [0, 300], "nice": false}, "axis": {"values": [0, 50, 100, 150, 200, 250, 300], "tickCount": 50, "format": "d", "title": "IL-18 (pg/mL)", "titlePadding": 0, "minExtent": 24.5, "maxExtent": 24.5}},
      "fill": {"field": "geno", "type": "nominal", "scale": {"domain": ["WT", "Nlrc4⁻/⁻"], "range": ["#3a3a3a", "#e8e8e8"]},
       "legend": {"orient": "none", "legendX": 13, "legendY": 0, "symbolType": "M-1,-0.27H1V0.27H-1Z", "symbolSize": 400, "symbolStrokeWidth": 0.8, "encode": {"labels": {"update": {"fontStyle": {"signal": "datum.value === 'WT' ? 'normal' : 'italic'"}}}}}},
      "stroke": {"field": "geno", "type": "nominal", "scale": {"domain": ["WT", "Nlrc4⁻/⁻"], "range": ["#3a3a3a", "#555555"]}}}},
    {"data": {"name": "e3"}, "mark": {"type": "rule", "color": "#444"}, "encoding": {"x": {"field": "grp", "type": "nominal", "sort": ["Null", "Flagrp170"]}, "xOffset": {"field": "geno", "type": "nominal", "sort": ["WT", "Nlrc4⁻/⁻"]}, "y": {"field": "v", "type": "quantitative"}, "y2": {"field": "hi"}}},
    {"data": {"name": "e3"}, "transform": [{"filter": "datum.hi > datum.v"}], "mark": {"type": "tick", "orient": "horizontal", "size": 6, "thickness": 1, "color": "#444"}, "encoding": {"x": {"field": "grp", "type": "nominal", "sort": ["Null", "Flagrp170"]}, "xOffset": {"field": "geno", "type": "nominal", "sort": ["WT", "Nlrc4⁻/⁻"]}, "y": {"field": "hi", "type": "quantitative"}}},
    {"data": {"name": "e3s"}, "mark": {"type": "tick", "orient": "horizontal", "size": 26, "thickness": 1, "color": "#444"}, "encoding": {"x": {"field": "grp", "type": "nominal", "sort": ["Null", "Flagrp170"]}, "y": {"field": "y", "type": "quantitative"}}},
    {"data": {"name": "e3s"}, "mark": {"type": "text", "baseline": "bottom", "dy": -1, "fontSize": 10, "color": "#333"}, "encoding": {"x": {"field": "grp", "type": "nominal", "sort": ["Null", "Flagrp170"]}, "y": {"field": "y", "type": "quantitative"}, "text": {"field": "lab"}}}
   ]},
  {"width": 199, "height": 139, "title": {"text": "F", "dx": -47, "offset": -10},
   "resolve": {"scale": {"x": "independent"}, "axis": {"x": "independent"}},
   "layer": [
    {"layer": [
     {"data": {"name": "f"}, "mark": {"type": "bar", "strokeWidth": 0.8},
      "encoding": {
       "x": {"field": "grp", "type": "nominal", "sort": ["Null_1:10", "Flagrp170_1:10", "Null_1:40", "Flagrp170_1:40"], "scale": {"paddingInner": 0.467, "paddingOuter": 0.445}, "axis": {"title": null, "ticks": false, "labelAngle": 0, "labelAlign": "center", "labelBaseline": "top", "labelPadding": 6, "labelFontSize": 11.5, "labelExpr": "split(datum.label, '_')[0]"}},
       "xOffset": {"field": "geno", "type": "nominal", "sort": ["WT", "Nlrc4⁻/⁻"], "scale": {"paddingInner": 0.286, "paddingOuter": 0}},
       "y": {"field": "v", "type": "quantitative", "scale": {"domain": [0, 100], "nice": false}, "axis": {"values": [0, 20, 40, 60, 80, 100], "tickCount": 50, "format": "d", "title": "IFN-γ (pg/mL)", "titlePadding": 0, "minExtent": 28.5, "maxExtent": 28.5}},
       "fill": {"field": "geno", "type": "nominal", "scale": {"domain": ["WT", "Nlrc4⁻/⁻"], "range": ["#3a3a3a", "#e8e8e8"]},
        "legend": {"orient": "none", "legendX": 6, "legendY": -8, "symbolType": "M-1,-0.27H1V0.27H-1Z", "symbolSize": 400, "symbolStrokeWidth": 0.8, "encode": {"labels": {"update": {"fontStyle": {"signal": "datum.value === 'WT' ? 'normal' : 'italic'"}}}}}},
       "stroke": {"field": "geno", "type": "nominal", "scale": {"domain": ["WT", "Nlrc4⁻/⁻"], "range": ["#3a3a3a", "#555555"]}}}},
     {"data": {"name": "f"}, "mark": {"type": "rule", "color": "#333"}, "encoding": {"x": {"field": "grp", "type": "nominal", "sort": ["Null_1:10", "Flagrp170_1:10", "Null_1:40", "Flagrp170_1:40"]}, "xOffset": {"field": "geno", "type": "nominal", "sort": ["WT", "Nlrc4⁻/⁻"]}, "y": {"field": "v", "type": "quantitative"}, "y2": {"field": "hi"}}},
     {"data": {"name": "f"}, "transform": [{"filter": "datum.hi > datum.v"}], "mark": {"type": "tick", "orient": "horizontal", "size": 5, "thickness": 1, "color": "#333"}, "encoding": {"x": {"field": "grp", "type": "nominal", "sort": ["Null_1:10", "Flagrp170_1:10", "Null_1:40", "Flagrp170_1:40"]}, "xOffset": {"field": "geno", "type": "nominal", "sort": ["WT", "Nlrc4⁻/⁻"]}, "y": {"field": "hi", "type": "quantitative"}}},
     {"data": {"name": "fs"}, "mark": {"type": "tick", "orient": "horizontal", "size": 28, "thickness": 1, "color": "#553333"}, "encoding": {"x": {"field": "grp", "type": "nominal", "sort": ["Null_1:10", "Flagrp170_1:10", "Null_1:40", "Flagrp170_1:40"]}, "y": {"field": "y", "type": "quantitative"}}},
     {"data": {"name": "fs"}, "mark": {"type": "text", "baseline": "bottom", "dy": -1, "fontSize": 10, "color": "#333"}, "encoding": {"x": {"field": "grp", "type": "nominal", "sort": ["Null_1:10", "Flagrp170_1:10", "Null_1:40", "Flagrp170_1:40"]}, "y": {"field": "y", "type": "quantitative"}, "text": {"field": "lab"}}}
    ]},
    {"data": {"name": "fr"}, "mark": {"type": "tick", "orient": "horizontal", "size": 72, "thickness": 1, "color": "#888"},
     "encoding": {
      "x": {"field": "ratio", "type": "nominal", "sort": ["1:10", "1:40"], "scale": {"paddingInner": 0, "paddingOuter": 0}, "axis": {"orient": "bottom", "offset": 22, "title": null, "domain": false, "ticks": false, "labelAngle": 0, "labelPadding": 1, "labelFontSize": 11.5, "labelBaseline": "top"}},
      "y": {"datum": -14.4}}}
   ]}
 ]}
]
}
